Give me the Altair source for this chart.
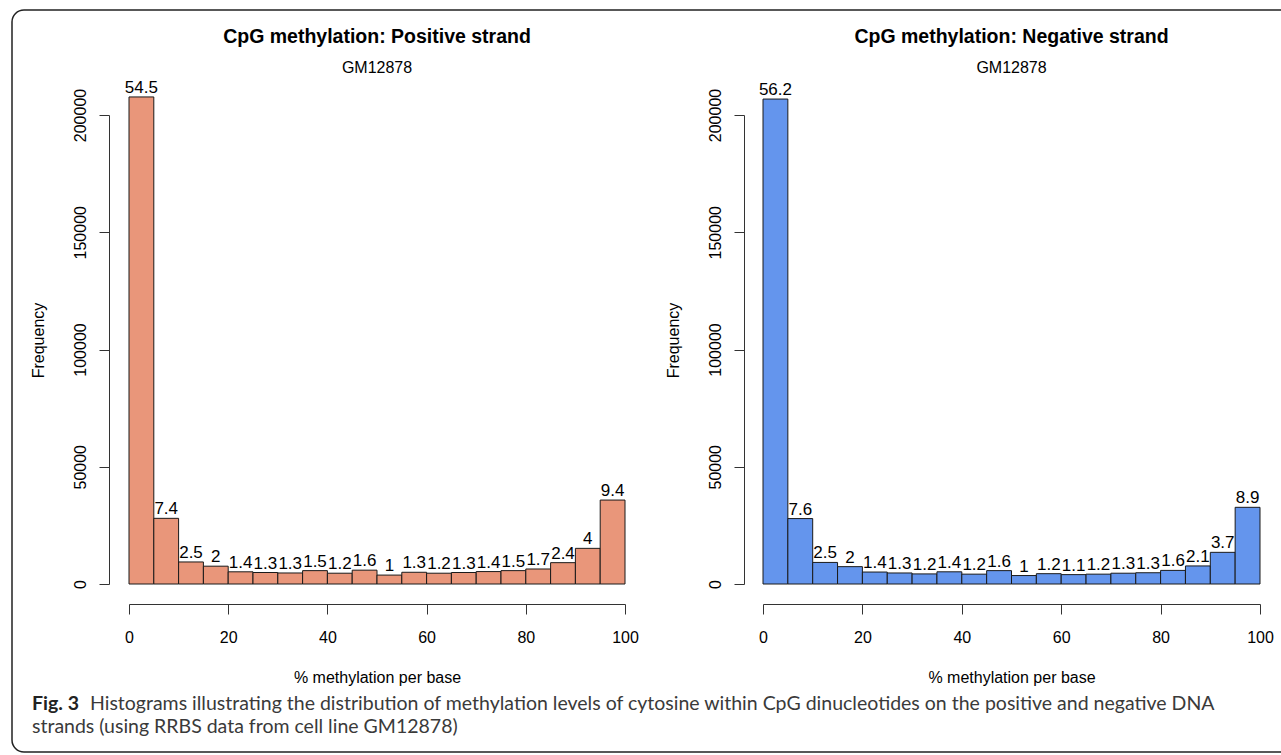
import altair as alt
import pandas as pd

# ---------------- data ----------------
bin_lo = [0, 5, 10, 15, 20, 25, 30, 35, 40, 45, 50, 55, 60, 65, 70, 75, 80, 85, 90, 95]
bin_hi = [5, 10, 15, 20, 25, 30, 35, 40, 45, 50, 55, 60, 65, 70, 75, 80, 85, 90, 95, 100]

pos_counts = [207700, 28000, 9400, 7600, 5200, 4900, 4700, 5700, 4600, 5900,
              3800, 5000, 4600, 4900, 5300, 5700, 6400, 9100, 15200, 35800]
pos_pct = [54.5, 7.4, 2.5, 2, 1.4, 1.3, 1.3, 1.5, 1.2, 1.6,
           1, 1.3, 1.2, 1.3, 1.4, 1.5, 1.7, 2.4, 4, 9.4]

neg_counts = [206800, 27900, 9200, 7400, 5100, 4700, 4300, 5200, 4200, 5700,
              3600, 4400, 4000, 4200, 4600, 4800, 5800, 7700, 13500, 32700]
neg_pct = [56.2, 7.6, 2.5, 2, 1.4, 1.3, 1.2, 1.4, 1.2, 1.6,
           1, 1.2, 1.1, 1.2, 1.3, 1.3, 1.6, 2.1, 3.7, 8.9]

x_ticks = [0, 20, 40, 60, 80, 100]
y_ticks = [0, 50000, 100000, 150000, 200000]

panel_titles = ["CpG methylation: Positive strand", "CpG methylation: Negative strand"]
panel_subtitle = "GM12878"
x_title = "% methylation per base"
y_title = "Frequency"
caption_bold = "Fig. 3"
caption_line1 = ("Histograms illustrating the distribution of methylation levels of cytosine "
                 "within CpG dinucleotides on the positive and negative DNA")
caption_line2 = "strands (using RRBS data from cell line GM12878)"

# ---------------- styling ----------------
FONT = "Liberation Sans"
CAP_FONT = "Lato"
CAP_SIZE = 19.5
W, H = 1281, 755
X_AXIS_Y = 604
Y_TOP, Y_ZERO = 115, 584


def panel(counts, pct, fill, title, x_range, axis_x):
    df = pd.DataFrame({"lo": bin_lo, "hi": bin_hi, "count": counts, "pct": pct})
    df["mid"] = (df["lo"] + df["hi"]) / 2
    xs = alt.Scale(domain=[0, 100], range=x_range, nice=False, zero=False)
    ys = alt.Scale(domain=[0, 200000], range=[Y_ZERO, Y_TOP], nice=False)
    xaxis = alt.Axis(values=x_ticks, orient="bottom", offset=X_AXIS_Y - H,
                     title=x_title, titleY=73, titleBaseline="middle",
                     tickSize=10, labelPadding=15, labelBaseline="top",
                     labelFlush=False, grid=False)
    yaxis = alt.Axis(values=y_ticks, orient="left", offset=-axis_x, format="d",
                     title=y_title, titleAngle=270, titleX=-71, titleY=340,
                     titleBaseline="middle", titleAlign="center",
                     tickSize=10, labelPadding=19, labelAngle=270,
                     labelAlign="center", labelBaseline="middle",
                     labelFlush=False, grid=False)
    base = alt.Chart(df)
    bars = base.mark_rect(fill=fill, stroke="#1a1a1a", strokeWidth=1).encode(
        x=alt.X("lo:Q", scale=xs, axis=xaxis),
        x2="hi:Q",
        y=alt.Y("count:Q", scale=ys, axis=yaxis),
        y2=alt.datum(0),
    )
    labels = base.mark_text(baseline="alphabetic", dy=-4, fontSize=17, font=FONT,
                            color="black").encode(
        x=alt.X("mid:Q", scale=xs, axis=xaxis),
        y=alt.Y("count:Q", scale=ys, axis=yaxis),
        text=alt.Text("pct:Q", format="~g"),
    )
    cx = (x_range[0] + x_range[1]) / 2
    tdf = pd.DataFrame({"t": [title], "s": [panel_subtitle]})
    ttl = alt.Chart(tdf).mark_text(fontSize=19.5, fontWeight="bold", font=FONT,
                                   baseline="middle", align="center", color="black").encode(
        x=alt.value(cx), y=alt.value(37), text="t:N")
    sub = alt.Chart(tdf).mark_text(fontSize=16, font=FONT, baseline="middle",
                                   align="center", color="black").encode(
        x=alt.value(cx), y=alt.value(68), text="s:N")
    return alt.layer(bars, labels, ttl, sub)


left = panel(pos_counts, pos_pct, "#E9967A", panel_titles[0], [129, 625], 109)
right = panel(neg_counts, neg_pct, "#6495ED", panel_titles[1], [763, 1260], 744)

border = alt.Chart(pd.DataFrame({"k": [0]})).mark_rect(
    fill="transparent", stroke="#222222", strokeWidth=1.5, cornerRadius=12).encode(
    x=alt.value(12), x2=alt.value(W + 20), y=alt.value(10), y2=alt.value(752))

cdf = pd.DataFrame({"b": [caption_bold], "l1": [caption_line1], "l2": [caption_line2]})
cap_b = alt.Chart(cdf).mark_text(font=CAP_FONT, fontSize=CAP_SIZE, fontWeight="bold",
                                 align="left", baseline="alphabetic", color="#222222").encode(
    x=alt.value(32), y=alt.value(710), text="b:N")
cap_1 = alt.Chart(cdf).mark_text(font=CAP_FONT, fontSize=CAP_SIZE, align="left",
                                 baseline="alphabetic", color="#3a3a3a").encode(
    x=alt.value(90), y=alt.value(710), text="l1:N")
cap_2 = alt.Chart(cdf).mark_text(font=CAP_FONT, fontSize=CAP_SIZE, align="left",
                                 baseline="alphabetic", color="#3a3a3a").encode(
    x=alt.value(32), y=alt.value(733), text="l2:N")

chart = alt.layer(border, left, right, cap_b, cap_1, cap_2).resolve_scale(
    x="independent", y="independent"
).resolve_axis(
    x="independent", y="independent"
).properties(
    width=W, height=H, padding=0,
    autosize=alt.AutoSizeParams(type="none"),
    background="white",
).configure_view(stroke=None).configure_axis(
    domainColor="#333333", tickColor="#333333", domainWidth=1, tickWidth=1,
    labelFont=FONT, labelFontSize=16, labelColor="black",
    titleFont=FONT, titleFontSize=16, titleFontWeight="normal", titleColor="black",
)

chart.save("out.html", embed_options={"renderer": "svg", "actions": False})
